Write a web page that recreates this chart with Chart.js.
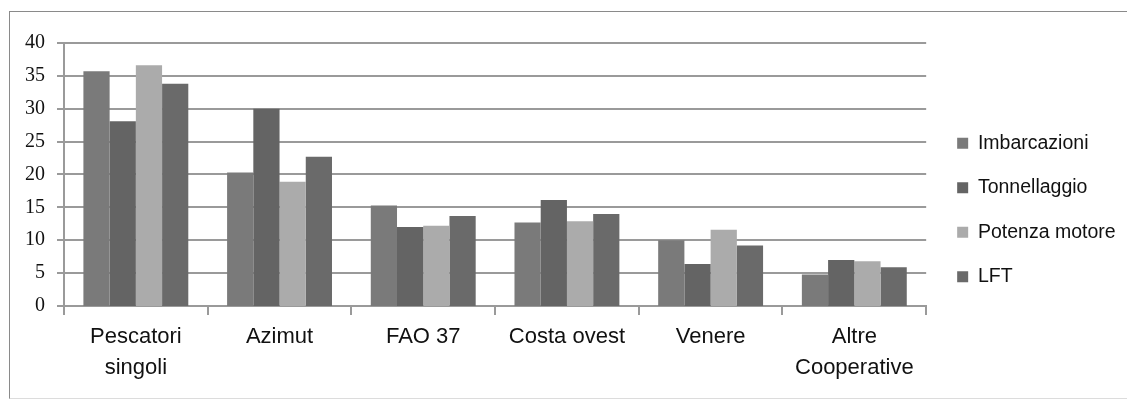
<!DOCTYPE html>
<html>
<head>
<meta charset="utf-8">
<script src="https://cdn.jsdelivr.net/npm/chart.js@4/dist/chart.umd.min.js"></script>
<style>
  html, body { margin: 0; padding: 0; background: #fff; }
  #wrap { position: relative; width: 1127px; height: 399px; overflow: hidden; }
  #frame { position: absolute; left: 9px; top: 11px; width: 1130px; height: 386px;
           border-left: 1px solid #8a8a8a; border-top: 1px solid #8a8a8a; border-bottom: 1px solid #dcdcdc; }
  canvas { position: absolute; left: 0; top: 0; }
</style>
</head>
<body>
<div id="wrap">
  <div id="frame"></div>
  <canvas id="c" width="1127" height="399"></canvas>
</div>
<script>
const categories = [['Pescatori', 'singoli'], 'Azimut', 'FAO 37', 'Costa ovest', 'Venere', ['Altre', 'Cooperative']];
const imbarcazioni = [35.7, 20.3, 15.3, 12.7, 10.0, 4.8];
const tonnellaggio = [28.1, 30.0, 12.0, 16.1, 6.4, 7.0];
const potenzaMotore = [36.6, 18.9, 12.2, 12.9, 11.6, 6.8];
const lft = [33.8, 22.7, 13.7, 14.0, 9.2, 5.9];
const seriesNames = ['Imbarcazioni', 'Tonnellaggio', 'Potenza motore', 'LFT'];
const yTicks = [0, 5, 10, 15, 20, 25, 30, 35, 40];

const colors = ['#7a7a7a', '#646464', '#ababab', '#6a6a6a'];
const gridColor = '#9a9a9a';

const data = {
  labels: categories,
  datasets: [imbarcazioni, tonnellaggio, potenzaMotore, lft].map((vals, i) => ({
    label: seriesNames[i],
    data: vals,
    backgroundColor: colors[i],
    borderWidth: 0,
    categoryPercentage: 0.73,
    barPercentage: 1.0
  }))
};

new Chart(document.getElementById('c'), {
  type: 'bar',
  data,
  options: {
    responsive: false,
    animation: false,
    devicePixelRatio: 1,
    layout: { padding: { left: 13, right: 11, top: 31, bottom: 10 } },
    plugins: {
      tooltip: { enabled: false },
      legend: {
        position: 'right',
        align: 'center',
        labels: {
          boxWidth: 11,
          boxHeight: 11,
          padding: 25,
          color: '#111',
          font: { family: 'Liberation Sans, Arial, sans-serif', size: 19.5 }
        }
      }
    },
    scales: {
      x: {
        position: 'bottom',
        offset: true,
        grid: { offset: true, drawOnChartArea: false, drawTicks: true, tickLength: 9, color: gridColor, lineWidth: 2 },
        border: { display: true, color: gridColor, width: 2 },
        ticks: {
          color: '#111',
          padding: 6,
          maxRotation: 0,
          autoSkip: false,
          font: { family: 'Liberation Sans, Arial, sans-serif', size: 22, lineHeight: 1.41 }
        }
      },
      xTop: {
        axis: 'x', type: 'linear', position: 'top', display: true,
        grid: { display: false, drawTicks: false }, border: { display: false }, ticks: { display: false },
        afterFit(s) { s.height = 12; }
      },
      yRight: {
        axis: 'y', type: 'linear', position: 'right', display: true,
        grid: { display: false, drawTicks: false }, border: { display: false }, ticks: { display: false },
        afterFit(s) { s.width = 6; }
      },
      y: {
        position: 'left',
        min: 0, max: 40,
        afterBuildTicks(s) { s.ticks = yTicks.map(v => ({ value: v })); },
        grid: { color: gridColor, lineWidth: 2, tickLength: 7, drawTicks: true },
        border: { display: true, color: gridColor, width: 2 },
        ticks: {
          color: '#111',
          padding: 12,
          font: { family: 'Liberation Serif, Times New Roman, serif', size: 20 }
        }
      }
    }
  }
});
</script>
</body>
</html>
